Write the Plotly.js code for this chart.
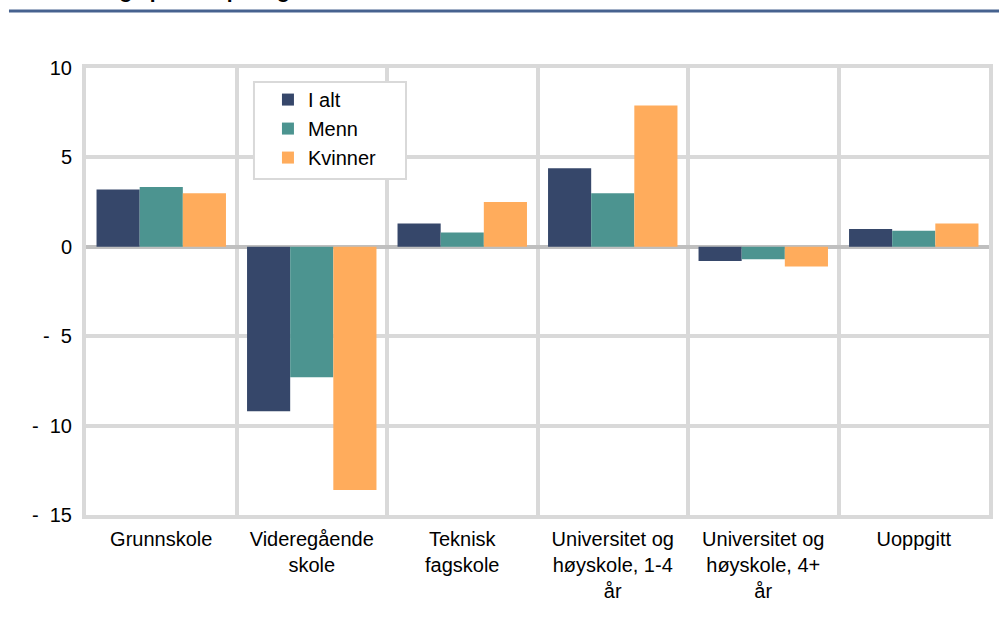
<!DOCTYPE html>
<html>
<head>
<meta charset="utf-8">
<script src="https://cdn.plot.ly/plotly-3.0.1.min.js"></script>
<style>html,body{margin:0;padding:0;background:#fff;}#chart{width:999px;height:618px;}</style>
</head>
<body>
<div id="chart"></div>
<script>
const categories = ["Grunnskole", "Videregående<br>skole", "Teknisk<br>fagskole", "Universitet og<br>høyskole, 1-4<br>år", "Universitet og<br>høyskole, 4+<br>år", "Uoppgitt"];
const seriesNames = ["I alt", "Menn", "Kvinner"];
const iAlt    = [3.2, -9.2, 1.3, 4.4, -0.8, 1.0];
const menn    = [3.35, -7.3, 0.8, 3.0, -0.7, 0.9];
const kvinner = [3.0, -13.6, 2.5, 7.9, -1.1, 1.3];
const yTickVals = [10, 5, 0, -5, -10, -15];
const yTickText = ["10", "5", "0", "-\u00a0\u00a05", "-\u00a0\u00a010", "-\u00a0\u00a015"];
const colors = ["#36476A", "#4C9490", "#FFAC5C"];
const titleText = "Endring i prosentpoeng";

const values = [iAlt, menn, kvinner];
const traces = seriesNames.map((name, i) => ({
  type: "bar",
  name: name,
  x: categories,
  y: values[i],
  marker: {color: colors[i], line: {width: 0}},
  legendgroup: "g" + i,
  hoverinfo: "skip"
}));

const gridColor = "#d9d9d9";
const layout = {
  width: 999, height: 618,
  margin: {l: 86, r: 10, t: 68, b: 103},
  paper_bgcolor: "#fff", plot_bgcolor: "#fff",
  font: {family: "Liberation Sans, Arial, sans-serif", size: 20, color: "#000"},
  barmode: "group",
  bargap: 0.14,
  bargroupgap: 0,
  showlegend: true,
  legend: {
    x: 0.2015, y: 0.973, xanchor: "left", yanchor: "top",
    bgcolor: "rgba(0,0,0,0)", borderwidth: 0,
    font: {size: 20, color: "#000"},
    tracegroupgap: 5,
    traceorder: "normal"
  },
  xaxis: {
    type: "category",
    tickson: "boundaries",
    showgrid: true, gridcolor: gridColor, gridwidth: 4,
    showline: true, linecolor: gridColor, linewidth: 4, mirror: true,
    ticks: "", ticklen: 0, ticklabelstandoff: 3,
    tickfont: {size: 20, color: "#000"},
    fixedrange: true
  },
  yaxis: {
    range: [-15, 10],
    tickvals: yTickVals, ticktext: yTickText,
    showgrid: true, gridcolor: gridColor, gridwidth: 4,
    zeroline: true, zerolinecolor: "#bfbfbf", zerolinewidth: 4,
    showline: true, linecolor: gridColor, linewidth: 4, mirror: true,
    ticks: "", ticklabelstandoff: 6,
    tickfont: {size: 20, color: "#000"},
    fixedrange: true
  },
  shapes: [{
    type: "line", xref: "paper", yref: "paper",
    x0: -0.0853, x1: 1.0111, y0: 1.1275, y1: 1.1275,
    line: {color: "#46628F", width: 3}
  }, {
    type: "rect", xref: "paper", yref: "paper",
    x0: 0.186, x1: 0.3544, y0: 0.7517, y1: 0.9687,
    fillcolor: "#fff", line: {color: gridColor, width: 2}
  }],
  annotations: [{
    text: "<b>" + titleText + "</b>",
    xref: "paper", yref: "paper",
    x: 0.228, y: 1.1425, xanchor: "right", yanchor: "bottom",
    showarrow: false, font: {size: 21, color: "#000"}
  }]
};

Plotly.newPlot("chart", traces, layout, {displayModeBar: false, staticPlot: true});
</script>
</body>
</html>
